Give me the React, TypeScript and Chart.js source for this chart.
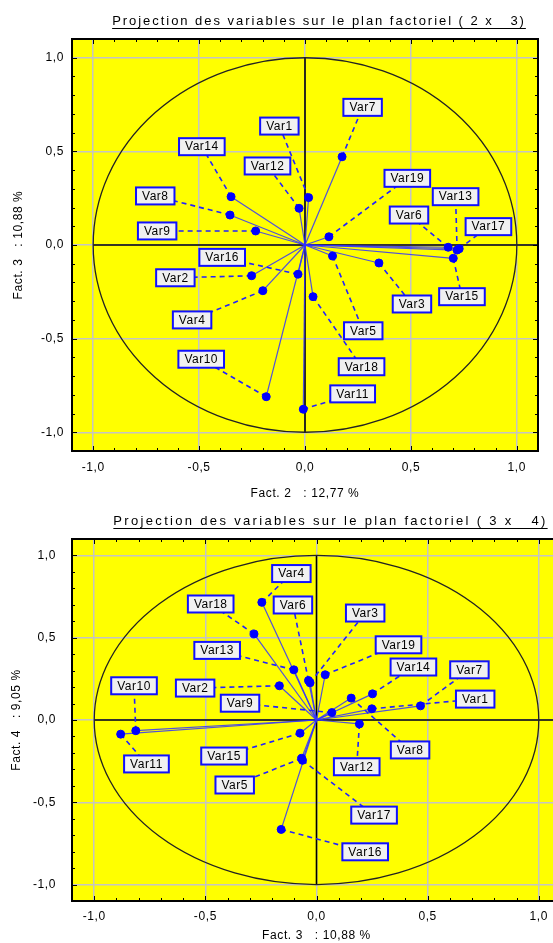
import React, { useEffect, useRef } from 'react';
import { Chart, registerables } from 'chart.js';
Chart.register(...registerables);

const varNames = ['Var1','Var2','Var3','Var4','Var5','Var6','Var7','Var8','Var9','Var10','Var11','Var12','Var13','Var14','Var15','Var16','Var17','Var18','Var19'];

// Plan factoriel 2 x 3
const plan1Fact2 = [0.017,-0.252,0.349,-0.199,0.13,0.676,0.175,-0.354,-0.233,-0.183,-0.008,-0.028,0.718,-0.349,0.7,-0.033,0.728,0.038,0.113];
const plan1Fact3 = [0.253,-0.164,-0.096,-0.244,-0.059,-0.012,0.471,0.16,0.075,-0.81,-0.877,0.196,-0.027,0.258,-0.071,-0.156,-0.02,-0.276,0.044];
const plan1LabelX = [-0.121,-0.612,0.505,-0.533,0.275,0.491,0.272,-0.707,-0.698,-0.49,0.225,-0.177,0.711,-0.487,0.741,-0.391,0.866,0.267,0.483];
const plan1LabelY = [0.635,-0.175,-0.315,-0.40,-0.458,0.16,0.735,0.262,0.075,-0.61,-0.795,0.422,0.258,0.525,-0.276,-0.066,0.098,-0.65,0.356];

// Plan factoriel 3 x 4
const plan2Fact3 = [0.249,-0.167,-0.029,-0.246,-0.067,-0.036,0.468,0.156,0.069,-0.813,-0.881,0.193,-0.102,0.252,-0.074,-0.159,-0.063,-0.281,0.039];
const plan2Fact4 = [0.068,0.208,0.226,0.715,-0.233,0.24,0.086,0.133,0.045,-0.065,-0.086,-0.024,0.305,0.159,-0.08,-0.665,-0.245,0.523,0.275];
const plan2LabelX = [0.714,-0.546,0.219,-0.113,-0.368,-0.106,0.688,0.421,-0.344,-0.821,-0.765,0.181,-0.447,0.436,-0.416,0.219,0.259,-0.476,0.369];
const plan2LabelY = [0.127,0.194,0.65,0.89,-0.395,0.699,0.305,-0.182,0.102,0.208,-0.267,-0.284,0.423,0.322,-0.219,-0.801,-0.578,0.705,0.457];

const tickValues = [-1, -0.5, 0, 0.5, 1];
const axisMin = -1.1;
const axisMax = 1.1;

const FONT = '"Liberation Sans", Arial, sans-serif';

function fmt(v: number): string {
  if (Math.abs(v) < 1e-9) return '0,0';
  return v.toFixed(1).replace('.', ',');
}

interface Cfg {
  title: string;
  xTitle: string;
  yTitle: string;
  xs: number[];
  ys: number[];
  lx: number[];
  ly: number[];
  padTop: number;
  padRight: number;
  xH: number;
  yW: number;
  yTickPad: number;
  xTickPad: number;
  yTitlePad: number;
  xTitlePadBottom: number;
}

function buildChart(canvas: HTMLCanvasElement, c: Cfg) {
  const datasets: any[] = [];
  varNames.forEach((n, i) => {
    datasets.push({
      label: n + ' ray',
      data: [{ x: 0, y: 0 }, { x: c.xs[i], y: c.ys[i] }],
      showLine: true,
      borderColor: 'rgba(50,50,255,0.85)',
      borderWidth: 1.2,
      pointRadius: 0,
      order: 3,
    });
    datasets.push({
      label: n + ' lead',
      data: [{ x: c.xs[i], y: c.ys[i] }, { x: c.lx[i], y: c.ly[i] }],
      showLine: true,
      borderColor: '#2222ff',
      borderWidth: 1.6,
      borderDash: [5, 4],
      pointRadius: 0,
      order: 2,
    });
  });
  datasets.push({
    label: 'points',
    data: c.xs.map((x, i) => ({ x, y: c.ys[i] })),
    showLine: false,
    pointRadius: 4,
    pointBackgroundColor: '#0000ff',
    pointBorderColor: '#0000ff',
    order: 1,
  });

  const bgPlugin = {
    id: 'bg',
    beforeDraw(chart: any) {
      const { ctx, chartArea: a } = chart;
      ctx.save();
      ctx.fillStyle = '#ffffff';
      ctx.fillRect(0, 0, chart.width, chart.height);
      ctx.fillStyle = '#ffff00';
      ctx.fillRect(a.left, a.top, a.right - a.left, a.bottom - a.top);
      ctx.restore();
      ctx.letterSpacing = '0.6px';
    },
  };

  const circlePlugin = {
    id: 'circle',
    beforeDatasetsDraw(chart: any) {
      const { ctx, chartArea: a } = chart;
      const sx = chart.scales.x, sy = chart.scales.y;
      const cx = sx.getPixelForValue(0), cy = sy.getPixelForValue(0);
      const rx = sx.getPixelForValue(1) - cx, ry = cy - sy.getPixelForValue(1);
      ctx.save();
      ctx.strokeStyle = '#000000';
      ctx.lineWidth = 1.6;
      ctx.beginPath();
      ctx.moveTo(cx, sy.getPixelForValue(1));
      ctx.lineTo(cx, sy.getPixelForValue(-1));
      ctx.moveTo(sx.getPixelForValue(-1), cy);
      ctx.lineTo(a.right, cy);
      ctx.stroke();
      ctx.strokeStyle = '#222222';
      ctx.lineWidth = 1.3;
      ctx.beginPath();
      ctx.ellipse(cx, cy, rx, ry, 0, 0, Math.PI * 2);
      ctx.stroke();
      ctx.restore();
    },
  };

  const labelPlugin = {
    id: 'labels',
    afterDatasetsDraw(chart: any) {
      const { ctx } = chart;
      const sx = chart.scales.x, sy = chart.scales.y;
      ctx.save();
      ctx.font = '12px ' + FONT;
      ctx.letterSpacing = '0.5px';
      ctx.textAlign = 'center';
      ctx.textBaseline = 'middle';
      varNames.forEach((n, i) => {
        const px = sx.getPixelForValue(c.lx[i]);
        const py = sy.getPixelForValue(c.ly[i]);
        const w = ctx.measureText(n).width + 12;
        const h = 17;
        ctx.fillStyle = '#f0f0f0';
        ctx.fillRect(px - w / 2, py - h / 2, w, h);
        ctx.strokeStyle = '#1010ff';
        ctx.lineWidth = 2;
        ctx.strokeRect(px - w / 2, py - h / 2, w, h);
        ctx.fillStyle = '#000000';
        ctx.fillText(n, px, py + 0.5);
      });
      ctx.restore();
    },
  };

  const framePlugin = {
    id: 'frame',
    afterDraw(chart: any) {
      const { ctx, chartArea: a } = chart;
      const sx = chart.scales.x, sy = chart.scales.y;
      ctx.save();
      ctx.strokeStyle = '#000000';
      ctx.lineWidth = 1;
      ctx.beginPath();
      for (let k = -11; k <= 11; k++) {
        const v = k / 10;
        const len = k % 5 === 0 ? 5 : 3;
        const px = Math.round(sx.getPixelForValue(v)) + 0.5;
        if (px > a.left + 1 && px < a.right - 1) {
          ctx.moveTo(px, a.top); ctx.lineTo(px, a.top + len);
          ctx.moveTo(px, a.bottom); ctx.lineTo(px, a.bottom - len);
        }
        const py = Math.round(sy.getPixelForValue(v)) + 0.5;
        if (py > a.top + 1 && py < a.bottom - 1) {
          ctx.moveTo(a.left, py); ctx.lineTo(a.left + len, py);
          ctx.moveTo(a.right, py); ctx.lineTo(a.right - len, py);
        }
      }
      ctx.stroke();
      ctx.lineWidth = 2;
      ctx.strokeRect(a.left, a.top, a.right - a.left, a.bottom - a.top);

      // title
      ctx.font = '13px ' + FONT;
      ctx.letterSpacing = '0px';
      const w0 = ctx.measureText(c.title).width;
      const target = (a.right - a.left) * 0.888;
      const sp = (target - w0) / c.title.length;
      ctx.letterSpacing = sp.toFixed(2) + 'px';
      const w = ctx.measureText(c.title).width;
      const cx = (a.left + a.right) / 2 + 14;
      const ty = a.top - 18;
      ctx.fillStyle = '#000000';
      ctx.textAlign = 'left';
      ctx.textBaseline = 'middle';
      ctx.fillText(c.title, cx - w / 2, ty);
      ctx.lineWidth = 1;
      ctx.beginPath();
      ctx.moveTo(cx - w / 2, ty + 7.5);
      ctx.lineTo(cx + w / 2, ty + 7.5);
      ctx.stroke();
      ctx.restore();
    },
  };

  const setTicks = (s: any) => {
    s.ticks = tickValues.map((v) => ({ value: v }));
  };

  return new Chart(canvas, {
    type: 'scatter',
    data: { datasets },
    plugins: [bgPlugin, circlePlugin, labelPlugin, framePlugin],
    options: {
      responsive: false,
      animation: false,
      events: [],
      layout: { padding: { top: c.padTop, right: c.padRight, left: 0, bottom: 0 } },
      plugins: { legend: { display: false }, tooltip: { enabled: false }, title: { display: false } },
      scales: {
        x: {
          type: 'linear',
          min: axisMin,
          max: axisMax,
          afterBuildTicks: setTicks,
          afterFit: (s: any) => { s.height = c.xH; },
          border: { display: false },
          grid: { color: '#c4c4c4', lineWidth: 1.5, drawTicks: false },
          ticks: {
            callback: (v: any) => fmt(Number(v)),
            color: '#000000',
            font: { size: 12, family: FONT },
            padding: c.xTickPad,
            maxRotation: 0,
            autoSkip: false,
          },
          title: {
            display: true,
            text: c.xTitle,
            color: '#000000',
            font: { size: 12, family: FONT },
            padding: { top: 0, bottom: c.xTitlePadBottom },
          },
        },
        y: {
          type: 'linear',
          min: axisMin,
          max: axisMax,
          afterBuildTicks: setTicks,
          afterFit: (s: any) => { s.width = c.yW; },
          border: { display: false },
          grid: { color: '#c4c4c4', lineWidth: 1.5, drawTicks: false },
          ticks: {
            callback: (v: any) => fmt(Number(v)),
            color: '#000000',
            font: { size: 12, family: FONT },
            padding: c.yTickPad,
            autoSkip: false,
          },
          title: {
            display: true,
            text: c.yTitle,
            color: '#000000',
            font: { size: 12, family: FONT },
            padding: { top: c.yTitlePad, bottom: 0 },
          },
        },
      },
    } as any,
  });
}

export default function App() {
  const ref1 = useRef<HTMLCanvasElement>(null);
  const ref2 = useRef<HTMLCanvasElement>(null);

  useEffect(() => {
    const ch1 = buildChart(ref1.current!, {
      title: 'Projection des variables sur le plan factoriel ( 2 x   3)',
      xTitle: 'Fact. 2   : 12,77 %',
      yTitle: 'Fact. 3   : 10,88 %',
      xs: plan1Fact2, ys: plan1Fact3, lx: plan1LabelX, ly: plan1LabelY,
      padTop: 39, padRight: 15, xH: 54, yW: 72,
      yTickPad: 8, xTickPad: 9, yTitlePad: 11, xTitlePadBottom: 4,
    });
    const ch2 = buildChart(ref2.current!, {
      title: 'Projection des variables sur le plan factoriel ( 3 x   4)',
      xTitle: 'Fact. 3   : 10,88 %',
      yTitle: 'Fact. 4   : 9,05 %',
      xs: plan2Fact3, ys: plan2Fact4, lx: plan2LabelX, ly: plan2LabelY,
      padTop: 34, padRight: 14, xH: 42, yW: 72,
      yTickPad: 16, xTickPad: 8, yTitlePad: 9, xTitlePadBottom: 0,
    });
    return () => { ch1.destroy(); ch2.destroy(); };
  }, []);

  return (
    <div style={{ position: 'fixed', left: 0, top: 0, width: 553, height: 943, overflow: 'hidden', background: '#ffffff' }}>
      <div style={{ position: 'absolute', left: 0, top: 0 }}>
        <canvas ref={ref1} width={553} height={505} style={{ display: 'block' }} />
      </div>
      <div style={{ position: 'absolute', left: 0, top: 505 }}>
        <canvas ref={ref2} width={575} height={438} style={{ display: 'block' }} />
      </div>
    </div>
  );
}
